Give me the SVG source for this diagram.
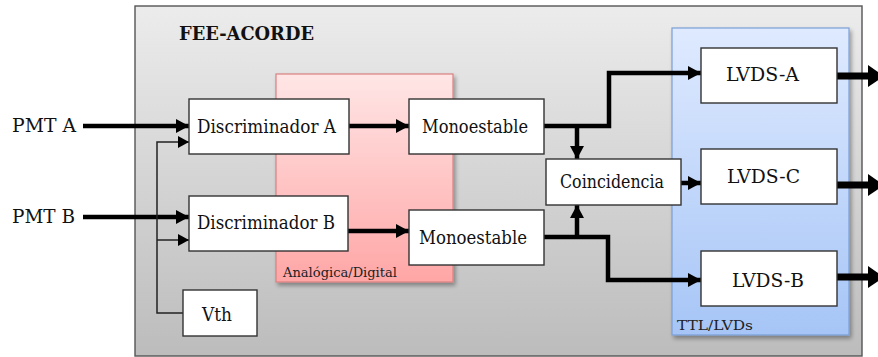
<svg xmlns="http://www.w3.org/2000/svg" width="878" height="357" viewBox="0 0 878 357">
<defs>
<linearGradient id="gOuter" x1="0" y1="0" x2="0" y2="1"><stop offset="0" stop-color="#ececec"/><stop offset="1" stop-color="#bcbcbc"/></linearGradient>
<linearGradient id="gPink" x1="0" y1="0" x2="0" y2="1"><stop offset="0" stop-color="#ffe6e6"/><stop offset="1" stop-color="#ffa6a6"/></linearGradient>
<linearGradient id="gBlue" x1="0" y1="0" x2="0" y2="1"><stop offset="0" stop-color="#dfeaff"/><stop offset="1" stop-color="#a6c5f6"/></linearGradient>
<filter id="sh" x="-10%" y="-10%" width="130%" height="130%"><feGaussianBlur in="SourceAlpha" stdDeviation="2"/><feOffset dx="2" dy="3"/><feComponentTransfer><feFuncA type="linear" slope="0.35"/></feComponentTransfer><feMerge><feMergeNode/><feMergeNode in="SourceGraphic"/></feMerge></filter>
<marker id="ah" markerUnits="userSpaceOnUse" markerWidth="14" markerHeight="14" refX="13" refY="7" orient="auto"><path d="M0,0 L13,7 L0,14 z" fill="#000"/></marker>
<marker id="at" markerUnits="userSpaceOnUse" markerWidth="12" markerHeight="12" refX="11" refY="6" orient="auto"><path d="M0,0 L11,6 L0,12 z" fill="#000"/></marker>
<style>
.box{fill:#fff;stroke:#333;stroke-width:1.4}
.t{font-family:'DejaVu Serif','Liberation Serif',serif;font-size:18px;fill:#111}
.s{font-family:'DejaVu Serif','Liberation Serif',serif;font-size:12.5px;fill:#222}
.b{font-family:'DejaVu Serif','Liberation Serif',serif;font-size:18px;font-weight:bold;fill:#111}
.thick{fill:none;stroke:#000;stroke-width:4.5}
.thin{fill:none;stroke:#222;stroke-width:1.5}
.out{fill:none;stroke:#000;stroke-width:7}
</style>
</defs>
<g id="fee-acorde">
<rect x="135" y="6" width="727" height="350" fill="url(#gOuter)" stroke="#555" stroke-width="1.4"/>
<text class="b" x="179" y="40" textLength="135" lengthAdjust="spacingAndGlyphs">FEE-ACORDE</text>
</g>
<g id="analogica-digital">
<rect x="276" y="74" width="177" height="208" fill="url(#gPink)" stroke="#d98080" stroke-width="1.2" filter="url(#sh)"/>
<text class="s" x="283" y="277" textLength="114" lengthAdjust="spacingAndGlyphs">Analógica/Digital</text>
</g>
<g id="ttl-lvds">
<rect x="672" y="28" width="177" height="307" fill="url(#gBlue)" stroke="#7b9fd6" stroke-width="1.2" filter="url(#sh)"/>
<text class="s" x="677" y="330" textLength="76" lengthAdjust="spacingAndGlyphs">TTL/LVDs</text>
</g>
<g id="connectors">
<text class="t" x="12" y="132" textLength="64" lengthAdjust="spacingAndGlyphs">PMT A</text>
<text class="t" x="12" y="223" textLength="63" lengthAdjust="spacingAndGlyphs">PMT B</text>
<line class="thick" x1="83" y1="126" x2="189" y2="126" marker-end="url(#ah)"/>
<line class="thick" x1="83" y1="217" x2="189" y2="217" marker-end="url(#ah)"/>
<polyline class="thin" points="183,313 157,313 157,142 189,142" marker-end="url(#at)"/>
<line class="thin" x1="157" y1="240" x2="189" y2="240" marker-end="url(#at)"/>
<line class="thick" x1="349" y1="126" x2="409" y2="126" marker-end="url(#ah)"/>
<line class="thick" x1="348" y1="231" x2="409" y2="231" marker-end="url(#ah)"/>
<polyline class="thick" points="544,126 609,126 609,73 701,73" marker-end="url(#ah)"/>
<line class="thick" x1="577" y1="126" x2="577" y2="159" marker-end="url(#ah)"/>
<polyline class="thick" points="544,237 608,237 608,280 701,280" marker-end="url(#ah)"/>
<line class="thick" x1="577" y1="237" x2="577" y2="205" marker-end="url(#ah)"/>
<line class="thick" x1="681" y1="183" x2="701" y2="183" marker-end="url(#ah)"/>
<line class="out" x1="837" y1="76" x2="872" y2="76"/>
<polygon points="868,65 884,76 868,87" fill="#000"/>
<line class="out" x1="837" y1="185" x2="872" y2="185"/>
<polygon points="868,174 884,185 868,196" fill="#000"/>
<line class="out" x1="837" y1="277" x2="872" y2="277"/>
<polygon points="868,266 884,277 868,288" fill="#000"/>
</g>
<g id="disc-a"><rect class="box" x="189" y="99" width="160" height="55"/><text class="t" x="197" y="133" textLength="139" lengthAdjust="spacingAndGlyphs">Discriminador A</text></g>
<g id="disc-b"><rect class="box" x="189" y="196" width="159" height="55"/><text class="t" x="197" y="229" textLength="138" lengthAdjust="spacingAndGlyphs">Discriminador B</text></g>
<g id="mono-a"><rect class="box" x="409" y="99" width="135" height="55"/><text class="t" x="422" y="133" textLength="106" lengthAdjust="spacingAndGlyphs">Monoestable</text></g>
<g id="mono-b"><rect class="box" x="409" y="210" width="135" height="55"/><text class="t" x="419" y="244" textLength="108" lengthAdjust="spacingAndGlyphs">Monoestable</text></g>
<g id="vth"><rect class="box" x="183" y="290" width="74" height="46"/><text class="t" x="202" y="321" textLength="30" lengthAdjust="spacingAndGlyphs">Vth</text></g>
<g id="coincidencia"><rect class="box" x="546" y="159" width="135" height="46"/><text class="t" x="560" y="188" textLength="104" lengthAdjust="spacingAndGlyphs">Coincidencia</text></g>
<g id="lvds-a"><rect class="box" x="701" y="48" width="136" height="55"/><text class="t" x="726" y="81" textLength="73" lengthAdjust="spacingAndGlyphs">LVDS-A</text></g>
<g id="lvds-c"><rect class="box" x="701" y="149" width="136" height="55"/><text class="t" x="727" y="183" textLength="73" lengthAdjust="spacingAndGlyphs">LVDS-C</text></g>
<g id="lvds-b"><rect class="box" x="701" y="251" width="136" height="55"/><text class="t" x="732" y="287" textLength="72" lengthAdjust="spacingAndGlyphs">LVDS-B</text></g>
</svg>
